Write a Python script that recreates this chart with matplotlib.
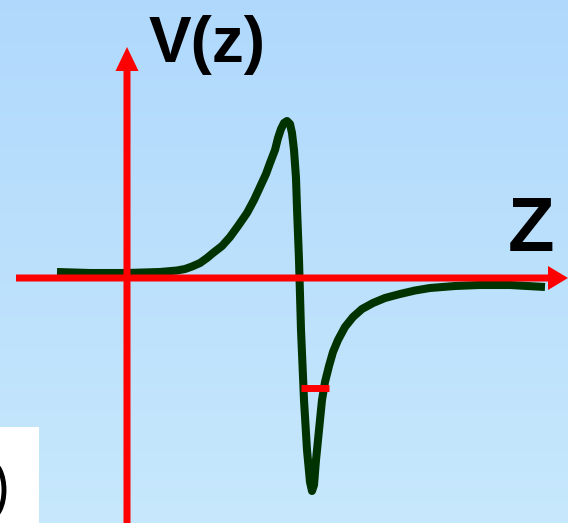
import numpy as np
import matplotlib
matplotlib.use('Agg')
from matplotlib import pyplot as plt
from matplotlib.patches import Rectangle, Ellipse

# curve V(z) (origin at the axis crossing)
z_vals = [-0.70, -0.37, 0.00, 0.33, 0.50, 0.58, 0.65, 0.73, 0.80, 0.86, 0.95,
          1.03, 1.11, 1.20, 1.27, 1.33, 1.39, 1.43, 1.48, 1.51, 1.54, 1.57,
          1.60, 1.63, 1.65, 1.67, 1.69, 1.70, 1.72, 1.74, 1.77, 1.80, 1.83,
          1.85, 1.87, 1.89, 1.92, 1.95, 1.98, 2.02, 2.06, 2.11, 2.18, 2.26,
          2.35, 2.46, 2.58, 2.73, 2.88, 3.03, 3.28, 3.53, 3.83, 4.18]
v_vals = [0.06, 0.05, 0.05, 0.06, 0.075, 0.09, 0.115, 0.15, 0.20, 0.25, 0.32,
          0.41, 0.52, 0.65, 0.78, 0.91, 1.04, 1.15, 1.28, 1.40, 1.49, 1.55,
          1.57, 1.54, 1.45, 1.28, 1.00, 0.70, 0.18, -0.52, -1.22, -1.72, -2.04,
          -2.13, -2.07, -1.82, -1.52, -1.22, -1.04, -0.88, -0.74, -0.62, -0.49,
          -0.39, -0.31, -0.25, -0.20, -0.16, -0.125, -0.10, -0.08, -0.07,
          -0.07, -0.09]

# small red marker across the well
mark_z = [1.74, 2.02]
mark_v = [-1.095, -1.095]

x_label = 'Z'
y_label = 'V(z)'


def run():
    fig = plt.figure(figsize=(5.68, 5.23), dpi=100)
    ax = fig.add_axes([0, 0, 1, 1])
    x0, x1, y0, y1 = -1.27, 4.41, -2.45, 2.78
    ax.set_xlim(x0, x1)
    ax.set_ylim(y0, y1)
    ax.axis('off')

    # light blue vertical gradient
    top = np.array([0.69, 0.85, 0.99])
    bot = np.array([0.78, 0.91, 0.99])
    t = np.linspace(0, 1, 256)[:, None]
    grad = top * (1 - t) + bot * t
    ax.imshow(grad[:, None, :], extent=[x0, x1, y0, y1], aspect='auto', zorder=0)

    # white box with a clipped ring in the bottom-left corner
    box = Rectangle((-1.27, -2.45), 0.39, 0.96, facecolor='white',
                    edgecolor='none', zorder=1)
    ax.add_patch(box)
    ring = Ellipse((-1.37, -2.12), 0.28, 0.56, facecolor='none',
                   edgecolor='black', lw=3.5, zorder=2)
    ax.add_patch(ring)
    ring.set_clip_path(box)

    # the curve
    ax.plot(z_vals, v_vals, color='#013300', lw=5.8, solid_joinstyle='round',
            solid_capstyle='butt', zorder=3)

    # axes as red arrows
    ax.arrow(-1.11, 0, 5.52, 0, width=0.07, head_width=0.24, head_length=0.20,
             length_includes_head=True, color='red', lw=0, zorder=4)
    ax.arrow(0, -2.45, 0, 4.76, width=0.07, head_width=0.23, head_length=0.24,
             length_includes_head=True, color='red', lw=0, zorder=4)
    ax.plot(mark_z, mark_v, color='red', lw=5, solid_capstyle='butt', zorder=5)

    ax.text(0.22, 2.16, y_label, fontsize=46, fontweight='bold',
            family='Liberation Sans', ha='left', va='baseline', zorder=6)
    ax.text(3.81, 0.27, x_label, fontsize=55, fontweight='bold',
            family='Liberation Sans', ha='left', va='baseline', zorder=6)

    fig.savefig('out.png', dpi=100)


if __name__ == '__main__':
    run()
